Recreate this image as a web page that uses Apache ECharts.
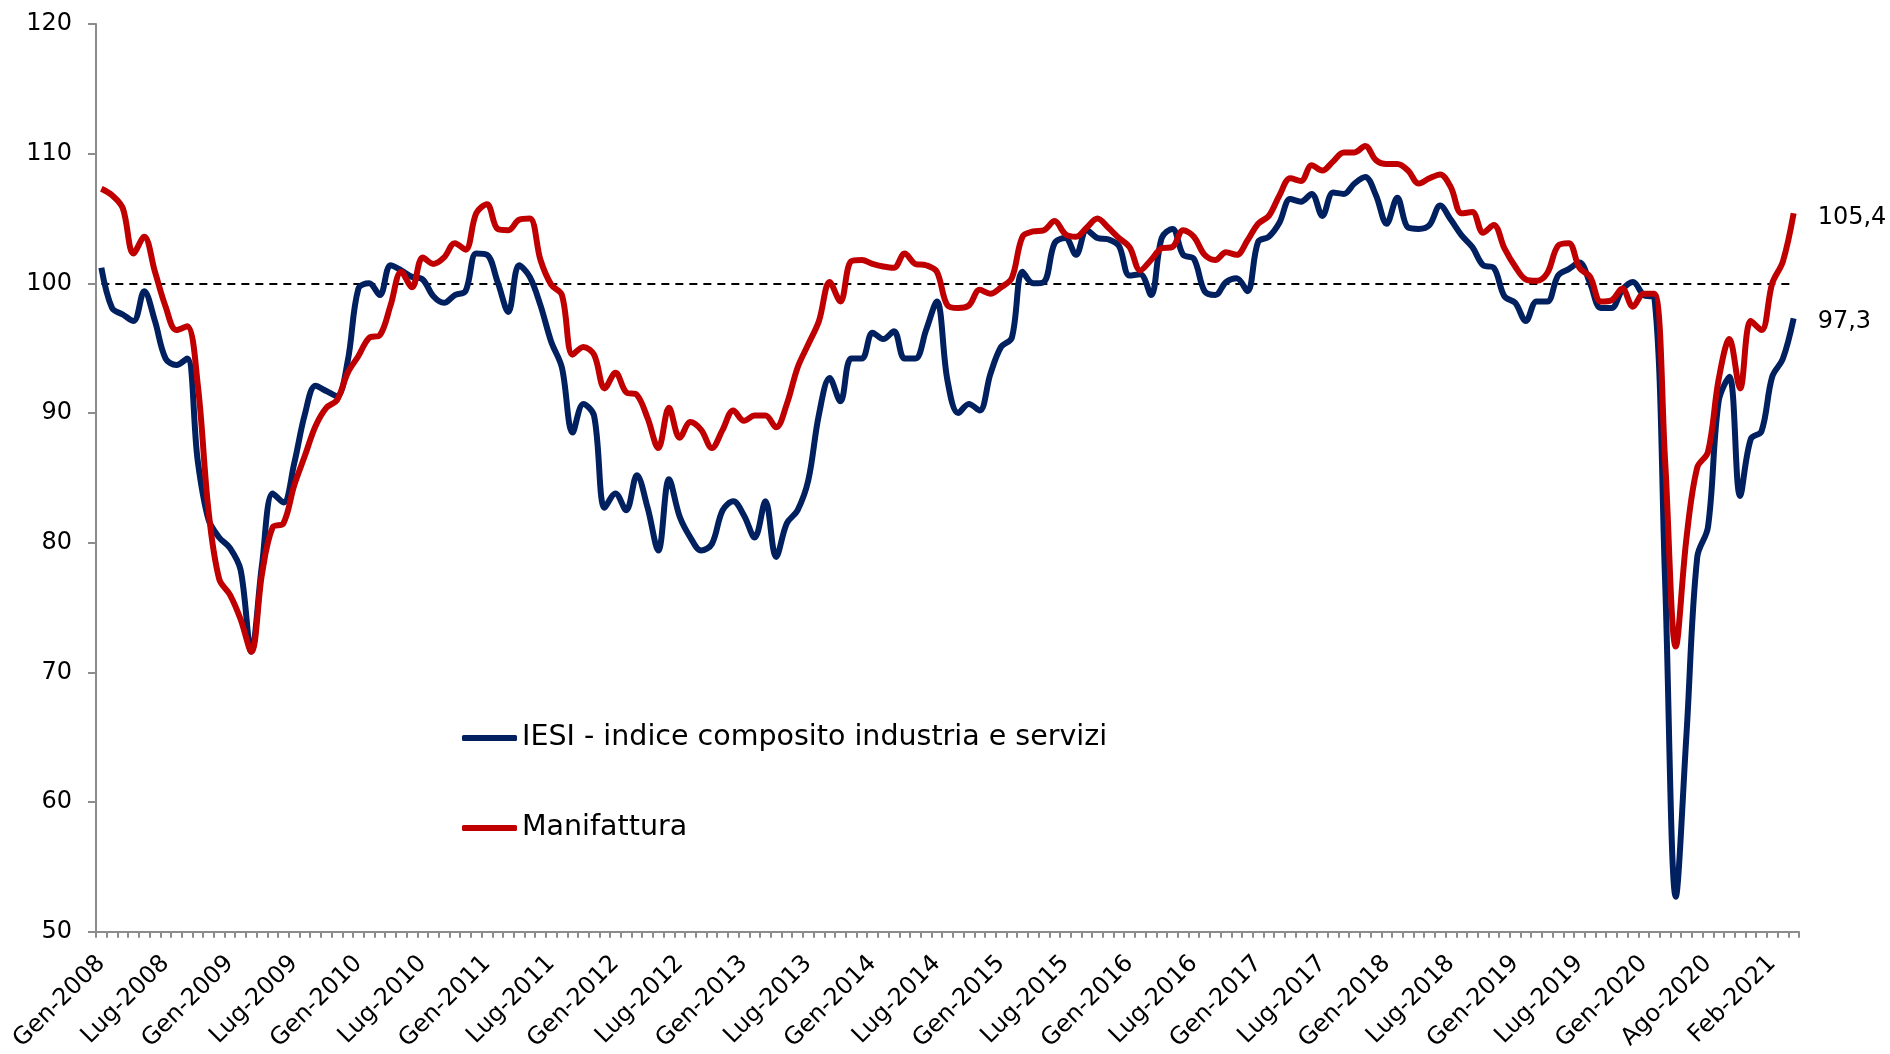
<!DOCTYPE html>
<html>
<head>
<meta charset="utf-8">
<title>IESI e Manifattura</title>
<script src="https://cdn.jsdelivr.net/npm/echarts@6/dist/echarts.min.js"></script>
<style>
  html, body { margin: 0; padding: 0; background: #fff; }
  #chart { width: 1890px; height: 1054px; }
</style>
</head>
<body>
<div id="chart"></div>
<script>
// mesi in italiano, aprile 2020 non rilevato
const mesi = ['Gen', 'Feb', 'Mar', 'Apr', 'Mag', 'Giu', 'Lug', 'Ago', 'Set', 'Ott', 'Nov', 'Dic'];
const anni = [2008, 2009, 2010, 2011, 2012, 2013, 2014, 2015, 2016, 2017, 2018, 2019, 2020, 2021];
const mesiMancanti = ['Apr-2020'];
const ultimoMese = 'Apr-2021';

const categorie = [];
for (const a of anni) {
  for (const m of mesi) {
    const c = m + '-' + a;
    if (!mesiMancanti.includes(c) && categorie[categorie.length - 1] !== ultimoMese) categorie.push(c);
  }
}

const iesi = [
  101.2, 98.1, 97.6, 97.1, 99.4, 97.1, 94.2, 93.7, 94.2, 86.3,
  81.8, 80.4, 79.6, 77.9, 71.6, 78.3, 83.8, 83.1, 86.1, 89.9,
  92.1, 91.7, 91.3, 94.0, 99.6, 100.0, 99.1, 101.4, 101.0, 100.5,
  100.3, 99.0, 98.5, 99.1, 99.4, 102.3, 102.2, 100.1, 97.8, 101.4,
  100.5, 98.3, 95.5, 93.5, 88.5, 90.7, 89.8, 82.7, 83.8, 82.5,
  85.2, 82.7, 79.4, 84.9, 82.0, 80.4, 79.4, 79.9, 82.5, 83.2,
  82.1, 80.4, 83.2, 78.9, 81.5, 82.5, 84.8, 89.9, 92.7, 90.9,
  94.2, 94.2, 96.2, 95.7, 96.3, 94.2, 94.2, 96.4, 98.6, 92.5,
  90.0, 90.7, 90.2, 93.0, 95.1, 95.8, 100.9, 100.0, 100.1, 103.1,
  103.5, 102.2, 104.1, 103.5, 103.4, 102.9, 100.6, 100.7, 99.1, 103.5,
  104.2, 102.2, 101.9, 99.4, 99.1, 100.1, 100.4, 99.4, 103.2, 103.6,
  104.7, 106.5, 106.3, 106.9, 105.2, 107.0, 106.9, 107.7, 108.2, 106.8,
  104.6, 106.6, 104.3, 104.2, 104.5, 106.0, 104.9, 103.7, 102.8, 101.4,
  101.2, 99.0, 98.5, 97.1, 98.6, 98.6, 100.6, 101.1, 101.6, 100.0,
  98.1, 98.1, 99.5, 100.1, 99.1, 98.9, 77.0, 52.7, 65.3, 78.9,
  81.2, 90.9, 92.8, 83.6, 88.0, 88.6, 92.8, 94.2, 97.3
];

const manifattura = [
  107.3, 106.8, 105.8, 102.3, 103.6, 100.9, 98.2, 96.4, 96.7, 92.2,
  82.5, 77.2, 76.0, 74.1, 71.6, 77.6, 81.2, 81.5, 84.4, 86.7,
  89.0, 90.4, 91.0, 93.1, 94.4, 95.8, 96.0, 98.3, 100.9, 99.7,
  102.0, 101.5, 102.0, 103.1, 102.6, 105.4, 106.1, 104.2, 104.1, 104.9,
  105.0, 101.8, 99.9, 99.1, 94.5, 95.1, 94.5, 91.9, 93.1, 91.6,
  91.4, 89.6, 87.3, 90.4, 88.1, 89.3, 88.7, 87.3, 88.7, 90.2,
  89.4, 89.8, 89.8, 88.9, 90.7, 93.5, 95.3, 97.1, 100.1, 98.6,
  101.7, 101.8, 101.5, 101.3, 101.2, 102.3, 101.5, 101.4, 100.9, 98.3,
  98.1, 98.3, 99.5, 99.2, 99.7, 100.4, 103.6, 104.0, 104.1, 104.8,
  103.8, 103.6, 104.3, 105.0, 104.3, 103.5, 102.8, 101.0, 101.8, 102.7,
  102.8, 104.1, 103.6, 102.2, 101.8, 102.4, 102.2, 103.3, 104.6, 105.2,
  106.8, 108.1, 107.9, 109.1, 108.7, 109.4, 110.1, 110.1, 110.6, 109.5,
  109.2, 109.2, 108.7, 107.7, 108.1, 108.4, 107.4, 105.4, 105.5, 103.9,
  104.5, 102.7, 101.3, 100.3, 100.2, 100.8, 102.9, 103.1, 101.2, 100.5,
  98.6, 98.7, 99.6, 98.2, 99.2, 99.2, 86.3, 72.0, 80.4, 85.8,
  87.0, 92.6, 95.7, 91.9, 97.1, 96.4, 100.0, 101.7, 105.4
];

const font = 'DejaVu Sans, Verdana, sans-serif';
const grigio = '#8c8c8c';

const chart = echarts.init(document.getElementById('chart'));

chart.setOption({
  animation: false,
  backgroundColor: '#fff',
  grid: { left: 96, right: 91, top: 24, bottom: 119, containLabel: false },
  legend: {
    orient: 'vertical',
    left: 457,
    top: 718,
    itemWidth: 55,
    itemHeight: 6,
    itemGap: 60,
    icon: 'roundRect',
    textStyle: { fontFamily: font, fontSize: 28.5, lineHeight: 30, color: '#000' },
    data: ['IESI - indice composito industria e servizi', 'Manifattura']
  },
  xAxis: {
    type: 'category',
    data: categorie,
    boundaryGap: true,
    axisLine: { lineStyle: { color: grigio, width: 2 } },
    axisTick: { show: true, interval: 0, length: 6, lineStyle: { color: grigio, width: 2 } },
    axisLabel: {
      interval: 5,
      rotate: 45,
      margin: 28,
      fontFamily: font,
      fontSize: 24,
      color: '#000'
    },
    splitLine: { show: false }
  },
  yAxis: {
    type: 'value',
    min: 50,
    max: 120,
    interval: 10,
    axisLine: { show: true, lineStyle: { color: grigio, width: 2 } },
    axisTick: { show: true, length: 8, lineStyle: { color: grigio, width: 2 } },
    axisLabel: { margin: 24, fontFamily: font, fontSize: 24, color: '#000' },
    splitLine: { show: false }
  },
  series: [
    {
      name: 'IESI - indice composito industria e servizi',
      type: 'line',
      data: iesi,
      symbol: 'none',
      smooth: 0.35,
      z: 3,
      lineStyle: { color: '#002060', width: 6 },
      itemStyle: { color: '#002060' },
      endLabel: {
        show: true,
        formatter: '97,3',
        distance: 24,
        offset: [0, 3],
        fontFamily: font,
        fontSize: 24,
        color: '#000'
      }
    },
    {
      name: 'Manifattura',
      type: 'line',
      data: manifattura,
      symbol: 'none',
      smooth: 0.35,
      z: 4,
      lineStyle: { color: '#C00000', width: 6 },
      itemStyle: { color: '#C00000' },
      endLabel: {
        show: true,
        formatter: '105,4',
        distance: 24,
        offset: [0, 4],
        fontFamily: font,
        fontSize: 24,
        color: '#000'
      },
      markLine: {
        silent: true,
        symbol: 'none',
        label: { show: false },
        lineStyle: { color: '#000', type: [8, 6], width: 2 },
        data: [[
          { coord: [categorie[0], 100] },
          { coord: [categorie[categorie.length - 1], 100] }
        ]],
        z: 2
      }
    }
  ]
});
</script>
</body>
</html>
